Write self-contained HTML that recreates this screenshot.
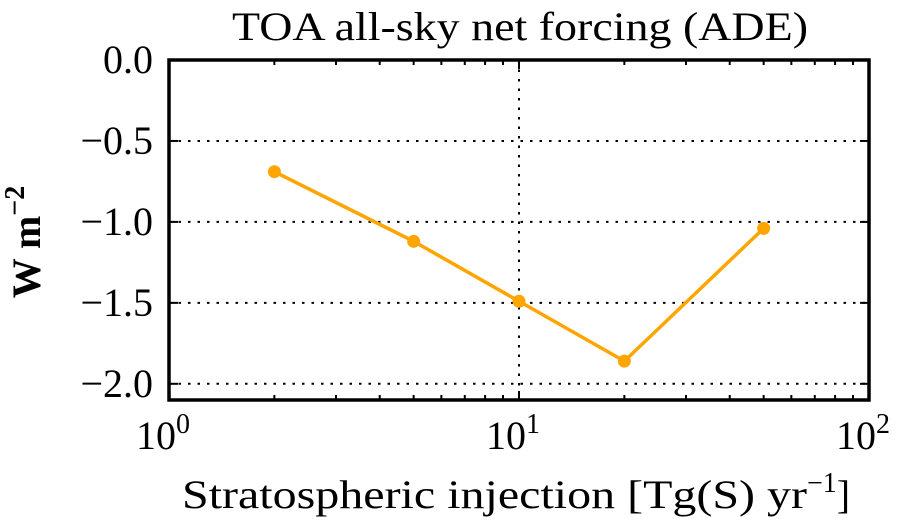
<!DOCTYPE html>
<html><head><meta charset="utf-8"><style>
body{margin:0;background:#fff}
svg{display:block;font-family:"Liberation Serif",serif}
</style></head><body>
<svg id="chart" width="902" height="526" viewBox="0 0 902 526" xmlns="http://www.w3.org/2000/svg"></svg>
<script>
const categories=[2,5,10,20,50];
const forcingValues=[-0.69,-1.12,-1.49,-1.86,-1.04];
const yTicks=[0,-0.5,-1.0,-1.5,-2.0];
const yTickLabels=["0.0","\u22120.5","\u22121.0","\u22121.5","\u22122.0"];
const xTicks=[1,10,100];
const xTickExp=["0","1","2"];

const L=169,R=869,T=60,B=400,yMin=-2.1,yMax=0;
const sx=v=>L+(Math.log10(v)-0)/2*(R-L);
const sy=v=>T+(yMax-v)/(yMax-yMin)*(B-T);
const svg=document.getElementById('chart');
const NS='http://www.w3.org/2000/svg';
function mk(tag,attrs,parent){const e=document.createElementNS(NS,tag);for(const k in attrs)e.setAttribute(k,attrs[k]);(parent||svg).appendChild(e);return e;}

yTicks.forEach((v,i)=>{if(v===0)return;
  const g=mk('line',{x1:L,x2:R,y1:sy(v),y2:sy(v),stroke:'#000','stroke-width':2,'stroke-dasharray':'2.5,7'});
  
  
});
xTicks.forEach(v=>{if(v===1||v===100)return;
  const g=mk('line',{x1:sx(v),x2:sx(v),y1:T,y2:B,stroke:'#000','stroke-width':2,'stroke-dasharray':'2.5,7'});
  
  
});
yTicks.forEach((v,i)=>{
  const y=sy(v);
  mk('line',{x1:L,x2:L+9,y1:y,y2:y,stroke:'#000','stroke-width':2});
  mk('line',{x1:R,x2:R-9,y1:y,y2:y,stroke:'#000','stroke-width':2});
  const t=mk('text',{x:153,y:y+13,'text-anchor':'end','font-size':40});
  t.textContent=yTickLabels[i];
  
  
});
for(let d=0;d<2;d++)for(let m=1;m<=10;m++){
  const v=Math.pow(10,d)*m; if(m===1&&d>0)continue;
  const len=(m===1||m===10)?9:5;
  const x=sx(v);
  mk('line',{x1:x,x2:x,y1:B,y2:B-len,stroke:'#000','stroke-width':2});
  mk('line',{x1:x,x2:x,y1:T,y2:T+len,stroke:'#000','stroke-width':2});
}
xTicks.forEach((v,i)=>{
  const t=mk('text',{x:sx(v)-6,y:449,'text-anchor':'middle','font-size':40});
  t.innerHTML='10<tspan dy="-16" font-size="28">'+xTickExp[i]+'</tspan>';
  
  
});
const pts=categories.map((c,i)=>sx(c)+','+sy(forcingValues[i])).join(' ');
const line=mk('polyline',{points:pts,fill:'none',stroke:'#ffa500','stroke-width':3.5});


categories.forEach((c,i)=>{
  const p=mk('circle',{cx:sx(c),cy:sy(forcingValues[i]),r:6.5,fill:'#ffa500'});
  
  
});
const f=mk('rect',{x:L,y:T,width:R-L,height:B-T,fill:'none',stroke:'#000','stroke-width':3.5});


const ti=mk('text',{x:232,y:40,'font-size':40,textLength:576,lengthAdjust:'spacingAndGlyphs'});
ti.textContent='TOA all-sky net forcing (ADE)';


const xt=mk('text',{x:182,y:508,'font-size':40});
xt.innerHTML='<tspan textLength="625" lengthAdjust="spacingAndGlyphs">Stratospheric injection [Tg(S) yr</tspan><tspan dy="-16" font-size="28">\u22121</tspan><tspan dy="16">]</tspan>';


const yt=mk('text',{x:0,y:0,'text-anchor':'middle','font-size':40,'font-weight':'bold',transform:'translate(40,242) rotate(-90)'});
yt.innerHTML='W m<tspan dy="-16" font-size="28">\u22122</tspan>';


</script>
</body></html>
